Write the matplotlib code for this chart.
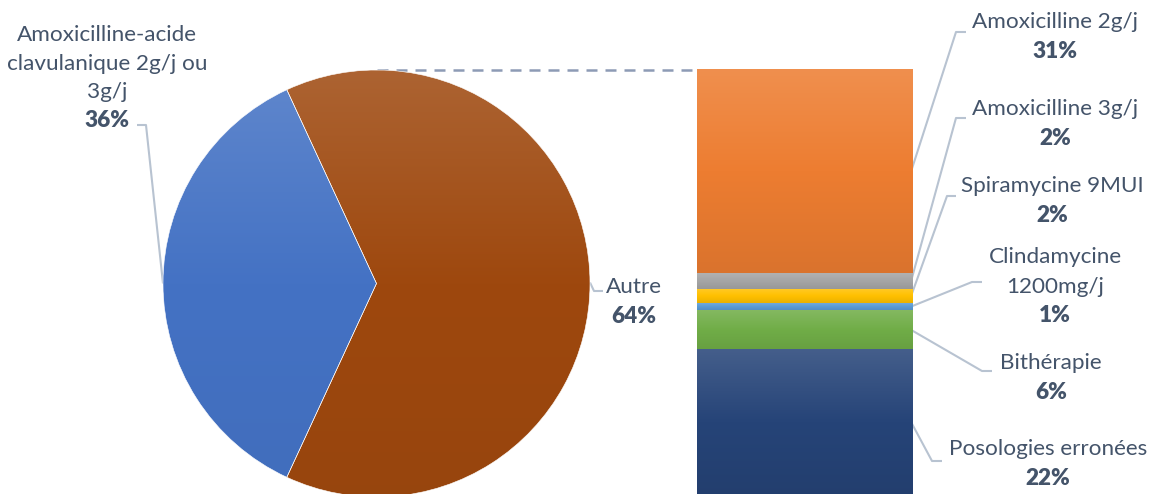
import numpy as np
import matplotlib.pyplot as plt
from matplotlib.colors import to_rgb
from matplotlib.patches import Wedge

plt.rcParams['font.family'] = ['Lato', 'DejaVu Sans']

# Pie: main treatment vs. everything else
pie_names = ["Amoxicilline-acide\nclavulanique 2g/j ou\n3g/j", "Autre"]
pie_colors = ["#4472c4", "#9e480e"]
pie_main = 36.2

# Breakdown of "Autre", drawn top to bottom in the stacked bar
bar_names = ["Amoxicilline 2g/j", "Amoxicilline 3g/j", "Spiramycine 9MUI",
             "Clindamycine\n1200mg/j", "Bithérapie", "Posologies erronées"]
bar_values = [30.6, 2.4, 2.1, 1.0, 6.0, 21.7]
bar_colors = ["#ed7d31", "#a5a5a5", "#ffc000", "#5b9bd5", "#70ad47", "#264478"]

TEXT = "#44546a"
LEADER = "#b8c3d1"
W, H = 1154, 494

fig = plt.figure(figsize=(W / 100, H / 100), dpi=100)
ax = fig.add_axes([0, 0, 1, 1])


def gradient(base, light=0.16, dark=0.08, n=256):
    base = np.array(to_rgb(base))
    top = base + (1 - base) * light
    bot = base * (1 - dark)
    t = np.linspace(0, 1, n)[:, None]
    col = np.where(t < 0.5, top + (base - top) * (t / 0.5),
                   base + (bot - base) * ((t - 0.5) / 0.5))
    return np.clip(col, 0, 1)[:, None, :]


# pie (y axis is flipped, so angles run clockwise on screen)
cx, cy, r = 376.5, 283.5, 213.5
other = 100 - pie_main
half = other / 100 * 180
spans = [(half, 360 - half), (-half, half)]
for (a0, a1), col in zip(spans, pie_colors):
    w = Wedge((cx, cy), r, a0, a1, facecolor='none', edgecolor='white', lw=0.4, zorder=3)
    ax.add_patch(w)
    im = ax.imshow(gradient(col, light=0.15, dark=0.04), extent=(cx - r, cx + r, cy + r, cy - r),
                   aspect='auto', interpolation='bilinear', zorder=2)
    im.set_clip_path(w)

# stacked bar for the "Autre" slice
bx0, bx1, btop, bbot = 697, 913, 70, 494
scale = (bbot - btop) / sum(bar_values)
mids = []
y = btop
for v, col in zip(bar_values, bar_colors):
    h = v * scale
    ax.imshow(gradient(col, light=0.14), extent=(bx0, bx1, y + h, y), aspect='auto',
              interpolation='bilinear', zorder=2)
    mids.append(y + h / 2)
    y += h

# dashed connector from top of pie to top of bar
ax.plot([cx, bx0], [cy - r, btop], color="#8d9bb5", lw=1.8,
        dashes=(4.4, 3.2), zorder=1)


def label(x, y0, name, value, step=29.5):
    lines = name.split("\n")
    for i, ln in enumerate(lines):
        ax.text(x, y0 + i * step, ln, color=TEXT, fontsize=16.2,
                ha='center', va='baseline')
    ax.text(x, y0 + len(lines) * step, f"{value:.0f}%", color=TEXT,
            fontsize=16.2, fontweight='heavy', ha='center', va='baseline')


def leader(pts):
    xs, ys = zip(*pts)
    ax.plot(xs, ys, color=LEADER, lw=1.5, zorder=1, solid_capstyle='butt')


# pie labels
label(107, 41, pie_names[0], pie_main, step=28.7)
leader([(137, 125), (146, 125), (cx - r, cy)])
label(634, 293, pie_names[1], other)
leader([(cx + r, cy - 1), (594, 291), (603, 291)])

# bar labels: (text x, first baseline, elbow, end of horizontal stub)
bar_layout = [
    (1055, 28, (956, 32), (966, 32)),
    (1055, 115, (956, 118), (966, 118)),
    (1052, 192, (947, 196), (956, 196)),
    (1055, 263, (972, 282), (982, 282)),
    (1051, 369, (982, 371), (992, 371)),
    (1048, 455, (932, 461), (942, 461)),
]
for (tx, ty, elbow, stub), name, v, m in zip(bar_layout, bar_names, bar_values, mids):
    label(tx, ty, name, v)
    leader([(bx1 - 2, m), elbow, stub])

ax.set_xlim(0, W)
ax.set_ylim(H, 0)
ax.axis('off')

fig.savefig("out.png", dpi=100, facecolor='white')
